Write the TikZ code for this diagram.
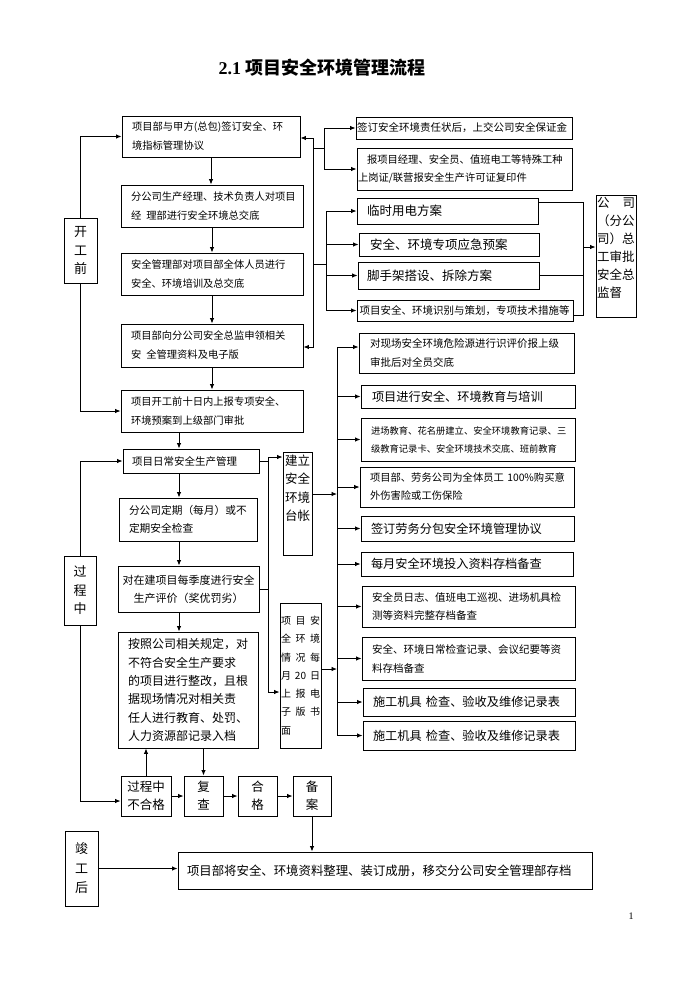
\documentclass[tikz,border=0pt]{standalone}
\usepackage{fontspec}
\setmainfont{Noto Sans CJK SC}
\newfontfamily\numfont{Liberation Serif}
\usetikzlibrary{arrows.meta}
\newcommand{\cnsize}[2]{\fontsize{#1pt}{#2pt}\selectfont}

\begin{document}
\begin{tikzpicture}[x=1pt,y=-1pt,
	box/.style={draw, line width=0.9pt, inner ysep=0pt, align=left},
	side/.style={draw, line width=0.9pt, inner sep=0pt, align=center},
	arr/.style={line width=0.9pt, -{Latex[length=5.5pt,width=4.5pt]}},
	ln/.style={line width=0.9pt}]
		\useasboundingbox (0,0) rectangle (700,989);
		
		% Title
		\node[font=\bfseries\cnsize{18}{20}] (title) at (322,68) {{\numfont 2.1} 项目安全环境管理流程};
		
		% Before construction
		\node[side, minimum width=33pt, minimum height=65pt, font=\cnsize{13}{18.5}] (kg) at (80.5,250.5) {开\\工\\前};
		\node[box, minimum width=178pt, minimum height=41pt, inner xsep=10pt, text width=158pt, font=\cnsize{10.3}{19}] (b1) at (211,136.5) {项目部与甲方(总包)签订安全、环\\境指标管理协议};
		\node[box, minimum width=182pt, minimum height=42pt, inner xsep=10pt, text width=162pt, font=\cnsize{10.3}{19}] (b2) at (212,206) {分公司生产经理、技术负责人对项目\\经\hspace{5pt}理部进行安全环境总交底};
		\node[box, minimum width=182pt, minimum height=42pt, inner xsep=10pt, text width=162pt, font=\cnsize{10.3}{19}] (b3) at (212,274) {安全管理部对项目部全体人员进行\\安全、环境培训及总交底};
		\node[box, minimum width=182pt, minimum height=43pt, inner xsep=10pt, text width=162pt, font=\cnsize{10.3}{19}] (b4) at (212,345.5) {项目部向分公司安全总监申领相关\\安\hspace{5pt}全管理资料及电子版};
		\node[box, minimum width=182pt, minimum height=42pt, inner xsep=10pt, text width=162pt, font=\cnsize{10.3}{19}] (b5) at (212,411) {项目开工前十日内上报专项安全、\\环境预案到上级部门审批};
		
		\node[box, minimum width=216pt, minimum height=22pt, inner xsep=1pt, text width=214pt, font=\cnsize{10.5}{18}] (r1) at (464,128) {签订安全环境责任状后，上交公司安全保证金};
		\node[box, minimum width=215pt, minimum height=42pt, inner xsep=1pt, text width=213pt, font=\cnsize{10.3}{18}] (r2) at (464.5,169) {\hspace*{9pt}报项目经理、安全员、值班电工等特殊工种\\上岗证/联营报安全生产许可证复印件};
		\node[box, minimum width=181pt, minimum height=26pt, inner xsep=10pt, text width=161pt, font=\cnsize{12.5}{18}] (r3) at (447.5,211) {临时用电方案};
		\node[box, minimum width=180pt, minimum height=23pt, inner xsep=11pt, text width=158pt, font=\cnsize{12.5}{18}] (r4) at (449,244.5) {安全、环境专项应急预案};
		\node[box, minimum width=181pt, minimum height=27pt, inner xsep=9pt, text width=163pt, font=\cnsize{12.5}{18}] (r5) at (448.5,275.5) {脚手架搭设、拆除方案};
		\node[box, minimum width=216pt, minimum height=21pt, inner xsep=2.5pt, text width=211pt, font=\cnsize{10.5}{18}] (r6) at (465,310.5) {项目安全、环境识别与策划，专项技术措施等};
		
		\node[box, minimum width=40pt, minimum height=122pt] (gs) at (616,256) {};
		\node[anchor=north, inner sep=0pt, text width=38pt, align=left, font=\cnsize{12.5}{18}] (gst) at ([yshift=-3pt]gs.north) {公\hfill 司\\（分公\\司）总\\工审批\\安全总\\监督};
		
		% During construction
		\node[side, minimum width=32pt, minimum height=69pt, font=\cnsize{13}{18.5}] (gc) at (80,590.5) {过\\程\\中};
		\node[box, minimum width=136pt, minimum height=24pt, inner xsep=9pt, text width=118pt, font=\cnsize{10.5}{18}] (c1) at (191,461) {项目日常安全生产管理};
		\node[box, minimum width=138pt, minimum height=43pt, inner xsep=10pt, text width=118pt, font=\cnsize{10.7}{18}] (c2) at (188,519.5) {分公司定期（每月）或不\\定期安全检查};
		\node[box, minimum width=141pt, minimum height=46pt, inner xsep=2pt, text width=137pt, align=center, font=\cnsize{11}{18}] (c3) at (188.5,589) {对在建项目每季度进行安全\\生产评价（奖优罚劣）};
		\node[box, minimum width=140pt, minimum height=116pt, inner xsep=10pt, text width=120pt, font=\cnsize{12}{18.3}] (c4) at (188,690) {按照公司相关规定，对\\不符合安全生产要求\\的项目进行整改，且根\\据现场情况对相关责\\任人进行教育、处罚、\\人力资源部记录入档};
		
		\node[box, minimum width=29pt, minimum height=103pt] (tz) at (297.5,503.5) {};
		\node[anchor=north, inner sep=0pt, align=center, font=\cnsize{12.5}{18.5}] (tzt) at ([yshift=-3pt]tz.north) {建立\\安全\\环境\\台帐};
		\node[box, minimum width=41pt, minimum height=145pt, inner xsep=1pt, text width=39pt, font=\cnsize{10}{18.3}] (xq) at (300.5,675.5) {项\hfill 目\hfill 安\\全\hfill 环\hfill 境\\情\hfill 况\hfill 每\\月\hfill 20\hfill 日\\上\hfill 报\hfill 电\\子\hfill 版\hfill 书\\面};
		
		\node[box, minimum width=215pt, minimum height=40pt, inner xsep=11pt, text width=193pt, font=\cnsize{10.5}{19}] (d1) at (466.5,353) {对现场安全环境危险源进行识评价报上级\\审批后对全员交底};
		\node[box, minimum width=214pt, minimum height=23pt, inner xsep=11pt, text width=192pt, font=\cnsize{12.2}{18}] (d2) at (468,396.5) {项目进行安全、环境教育与培训};
		\node[box, minimum width=214pt, minimum height=43pt, inner xsep=10pt, text width=194pt, font=\cnsize{9.3}{18}] (d3) at (468,439.5) {进场教育、花名册建立、安全环境教育记录、三\\级教育记录卡、安全环境技术交底、班前教育};
		\node[box, minimum width=214pt, minimum height=40pt, inner xsep=10pt, text width=194pt, font=\cnsize{10.3}{18}] (d4) at (467,487) {项目部、劳务公司为全体员工~100\%购买意\\外伤害险或工伤保险};
		\node[box, minimum width=213pt, minimum height=25pt, inner xsep=10pt, text width=193pt, font=\cnsize{12.2}{18}] (d5) at (467.5,528.5) {签订劳务分包安全环境管理协议};
		\node[box, minimum width=212pt, minimum height=24pt, inner xsep=10pt, text width=192pt, font=\cnsize{12.2}{18}] (d6) at (467,564) {每月安全环境投入资料存档备查};
		\node[box, minimum width=213pt, minimum height=41pt, inner xsep=10pt, text width=193pt, font=\cnsize{10.5}{18}] (d7) at (468.5,606.5) {安全员日志、值班电工巡视、进场机具检\\测等资料完整存档备查};
		\node[box, minimum width=213pt, minimum height=43pt, inner xsep=10pt, text width=193pt, font=\cnsize{10.5}{19}] (d8) at (468.5,658.5) {安全、环境日常检查记录、会议纪要等资\\料存档备查};
		\node[box, minimum width=212pt, minimum height=28pt, inner xsep=10pt, text width=192pt, font=\cnsize{12.2}{18}] (d9) at (469,702) {施工机具\ 检查、验收及维修记录表};
		\node[box, minimum width=212pt, minimum height=29pt, inner xsep=10pt, text width=192pt, font=\cnsize{12.2}{18}] (d10) at (469,735.5) {施工机具\ 检查、验收及维修记录表};
		
		\node[side, minimum width=50pt, minimum height=40pt, font=\cnsize{12.5}{18}] (e1) at (146,796) {过程中\\不合格};
		\node[side, minimum width=39pt, minimum height=40pt, font=\cnsize{12.5}{18}] (e2) at (203.5,796) {复\\查};
		\node[side, minimum width=39pt, minimum height=40pt, font=\cnsize{12.5}{18}] (e3) at (257.5,796) {合\\格};
		\node[side, minimum width=38pt, minimum height=40pt, font=\cnsize{12.5}{18}] (e4) at (312,796) {备\\案};
		
		% After completion
		\node[side, minimum width=33pt, minimum height=75pt, font=\cnsize{13}{19.5}] (jgh) at (81.5,868.5) {竣\\工\\后};
		\node[box, minimum width=414pt, minimum height=37pt, inner xsep=9pt, text width=396pt, font=\cnsize{12.4}{18}] (f) at (385,870.5) {项目部将安全、环境资料整理、装订成册，移交分公司安全管理部存档};
		
		\node[font=\numfont\fontsize{10}{12}\selectfont] (pnum) at (631,916) {1};
		
		% Links before construction
		\draw[arr] (kg.north) |- (b1.west);
		\draw[arr] (kg.south) |- (b5.west);
		\foreach \a/\b in {b1/b2,b2/b3,b3/b4,b4/b5}
			\draw[arr] (\a.south) -- (\a.south |- \b.north);
		
		\coordinate (ja) at (313,138);
		\coordinate (jb) at (313,347);
		\draw[arr] (ja) -- (ja -| b1.east);
		\draw[arr] (ja) -- (jb) -- (jb -| b4.east);
		\coordinate (jc) at (324,148);
		\draw[ln] (jc -| ja) -- (jc);
		\draw[arr] (jc) |- (r1.west);
		\draw[arr] (jc) |- (r2.west);
		\coordinate (jd) at (326,264);
		\draw[ln] (jd -| ja) -- (jd);
		\foreach \n in {r3,r4,r5,r6}
			\draw[arr] (jd) |- (\n.west);
		
		\coordinate (je) at (583,247);
		\coordinate (je1) at (583,202);
		\coordinate (je2) at (583,315);
		\draw[ln] (je1 -| r3.east) -- (je1) -- (je2) -- (je2 -| r6.east);
		\draw[ln] (r5.east) -- (r5.east -| je);
		\draw[arr] (je) -- (je -| gs.west);
		
		% Links during construction
		\draw[arr] (gc.north) |- (c1.west);
		\draw[arr] (gc.south) |- ([yshift=-5pt]e1.west);
		\coordinate (mx) at (179,0);
		\foreach \a/\b in {b5/c1,c1/c2,c2/c3,c3/c4}
			\draw[arr] (\a.south -| mx) -- (\b.north -| mx);
		
		\coordinate (jf) at (268,457);
		\coordinate (jg) at (268,692);
		\draw[ln] (c1.east) -- (c1.east -| jf);
		\draw[ln] (c3.east) -- (c3.east -| jf);
		\draw[arr] (jf) -- (jf -| tz.west);
		\draw[arr] (jf) -- (jg) -- (jg -| xq.west);
		
		\coordinate (jh) at (337,347);
		\coordinate (ji) at (337,735.5);
		\draw[ln] (jh) -- (ji);
		\draw[arr] ([yshift=9.5pt]tz.east) -- ([yshift=9.5pt]tz.east -| jh);
		\draw[arr] ([yshift=6.5pt]xq.east) -- ([yshift=6.5pt]xq.east -| jh);
		\draw[arr] (jh) -- (jh -| d1.west);
		\foreach \n in {d2,d3,d4,d5,d6,d7,d8,d9,d10}
			\draw[arr] (jh |- \n.west) -- (\n.west);
		
		% Re-check loop
		\draw[arr] (e1.north) -- (e1.north |- c4.south);
		\draw[arr] (c4.south -| e2.north) -- (e2.north);
		\draw[arr] (e1) -- (e2);
		\draw[arr] (e2) -- (e3);
		\draw[arr] (e3) -- (e4);
		\draw[arr] (e4.south) -- (e4.south |- f.north);
		\draw[arr] (jgh.east) -- (jgh.east -| f.west);
	\end{tikzpicture}
\end{document}
